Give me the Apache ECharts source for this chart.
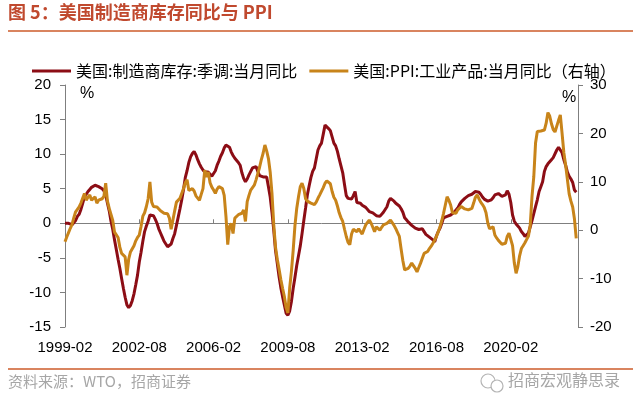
<!DOCTYPE html>
<html>
<head>
<meta charset="utf-8">
<script src="https://cdn.jsdelivr.net/npm/echarts@6/dist/echarts.min.js"></script>
<style>html,body{margin:0;padding:0;background:#fff;}#c{width:640px;height:414px;}</style>
</head>
<body>
<div id="c"></div>
<script>
// 美国:制造商库存:季调:当月同比 (left axis, %), monthly from 1999-02
const inventoryYoY = [
  0.0, 0.1, 0.0, -0.1, -0.2, -0.3, 0.4, 1.0, 1.3, 2.0, 2.9, 3.8,
  4.2, 4.6, 4.9, 5.2, 5.4, 5.5, 5.5, 5.3, 5.1, 5.0, 4.7, 4.1,
  2.9, 1.8, 0.3, -0.9, -2.4, -3.8, -5.2, -6.5, -8.0, -9.4, -10.7, -11.8,
  -12.2, -11.9, -11.2, -10.2, -8.9, -7.5, -5.6, -4.2, -2.6, -1.2, -0.4, 0.3,
  1.2, 1.3, 1.1, 0.6, 0.0, -0.8, -1.4, -2.0, -2.6, -3.0, -3.4, -3.5,
  -3.0, -2.2, -1.5, -0.3, 0.9, 2.1, 3.4, 4.9, 6.6, 7.6, 8.8, 9.6,
  10.1, 10.4, 9.9, 9.2, 8.6, 8.1, 7.7, 7.4, 7.2, 7.4, 7.3, 6.8,
  6.9, 7.6, 8.4, 9.0, 9.7, 10.2, 10.9, 11.3, 11.2, 11.0, 10.3, 9.8,
  9.4, 9.2, 8.8, 8.4, 7.3, 6.5, 6.0, 6.4, 7.0, 7.5, 8.0, 8.1,
  8.2, 7.5, 6.9, 6.8, 6.7, 6.8, 6.7, 5.3, 3.8, 1.6, -1.0, -3.9,
  -5.8, -7.7, -9.3, -10.6, -11.8, -13.0, -13.3, -12.7, -11.3, -9.4, -7.8, -6.1,
  -4.7, -3.3, -1.5, 0.4, 2.2, 4.1, 5.4, 6.6, 7.5, 8.0, 9.3, 10.6,
  11.2, 11.6, 12.9, 14.2, 14.0, 13.7, 13.4, 12.5, 11.6, 11.2, 10.4, 9.3,
  8.3, 7.3, 5.6, 4.0, 3.6, 3.4, 3.5, 4.0, 4.6, 3.0, 3.0, 2.9,
  2.6, 2.4, 2.3, 2.1, 1.7, 1.6, 1.5, 1.3, 1.1, 1.0, 1.0, 1.2,
  1.6, 2.0, 2.4, 3.2, 3.6, 3.4, 3.2, 2.9, 2.7, 2.5, 2.1, 1.6,
  0.8, 0.5, 0.2, 0.0, -0.3, -0.5, -0.7, -0.8, -0.9, -0.8, -0.8, -1.2,
  -1.6, -1.8, -2.0, -2.1, -2.4, -2.7, -1.8, -1.2, -0.7, 0.0, 0.8, 0.9,
  1.0, 1.1, 1.2, 1.4, 1.6, 1.8, 2.2, 2.7, 3.1, 3.3, 3.6, 3.8,
  4.0, 4.1, 4.2, 4.3, 4.6, 4.8, 4.5, 4.2, 3.8, 3.5, 3.4, 3.2,
  3.1, 3.4, 3.7, 4.1, 4.2, 4.3, 4.1, 3.9, 4.0, 4.1, 4.7, 4.2,
  3.0, 1.2, 0.3, -0.1, -0.4, -0.7, -1.2, -1.5, -1.9, -1.8, -1.4, -0.5,
  0.4, 1.4, 2.4, 3.4, 4.6, 5.3, 6.0, 7.5, 8.2, 8.6, 8.9, 9.2,
  9.5, 9.7, 10.6, 11.0, 11.1, 10.2, 9.2, 8.4, 7.4, 6.8, 6.4, 5.9,
  4.8, 4.5
];
// 美国:PPI:工业产品:当月同比 (right axis, %), monthly from 1999-02
const ppiYoY = [
  -2.4, -1.4, -0.5, 0.4, 1.2, 2.6, 3.8, 4.3, 4.8, 5.6, 6.6, 7.6,
  6.2, 6.8, 7.3, 6.2, 6.0, 6.9, 5.6, 6.2, 6.6, 6.5, 7.0, 9.7,
  6.0, 4.5, 4.3, 2.0, -0.4, -0.8, -1.5, -3.5, -4.8, -5.0, -5.5, -9.3,
  -6.0, -4.5, -4.3, -3.2, -2.2, -1.5, -1.0, 0.8, 2.9, 3.6, 4.9, 6.5,
  10.0, 5.8, 4.9, 5.0, 4.8, 4.4, 4.0, 3.6, 3.5, 3.8, 3.4, 2.5,
  0.2, 0.3, 4.0, 5.8, 6.2, 6.6, 6.9, 8.6, 9.8, 10.4, 8.2, 8.0,
  8.6, 8.1, 7.1, 6.7, 6.2, 7.4, 8.6, 12.4, 11.0, 12.0, 9.8, 8.9,
  8.3, 7.6, 8.5, 9.0, 8.8, 8.6, 7.2, 2.8, -3.0, 0.8, 1.4, -0.7,
  2.5, 2.9, 3.2, 3.4, 3.5, 4.2, 1.8, 5.9, 7.2, 8.3, 8.8, 9.3,
  10.4, 10.6, 13.0, 14.6, 15.9, 17.6, 16.4, 14.8, 12.0, 7.6, 1.2, -3.5,
  -6.0, -8.0, -10.2, -12.0, -13.7, -16.0, -17.1, -12.0, -8.5, -4.1, 1.0, 4.5,
  6.9, 9.0, 9.7, 8.6, 6.5, 6.0, 5.8, 5.6, 5.4, 5.3, 5.8, 6.6,
  7.3, 7.6, 8.8, 9.7, 10.2, 10.4, 9.6, 8.0, 6.8, 6.2, 5.0, 3.6,
  2.6, 1.8, 0.2, -1.3, -2.5, -3.0, -0.8, 0.2, 0.5, -0.3, 0.3, 0.6,
  -0.8, 0.2, 1.1, 1.6, 2.1, 1.5, 0.6, -0.3, 0.7, 0.3, 0.0, 0.6,
  1.1, 1.3, 1.4, 1.8, 2.1, 1.8, 1.0, 0.3, -0.5, -1.3, -3.9, -6.3,
  -8.2, -8.0, -7.9, -7.4, -6.8, -7.1, -7.9, -8.6, -7.7, -6.8, -5.8, -4.8,
  -5.1, -4.4, -3.8, -3.3, -2.7, -2.0, -1.3, -0.3, 0.7, 2.0, 3.5, 5.2,
  6.9, 6.2, 5.2, 3.6, 3.2, 3.5, 4.2, 4.5, 4.9, 5.2, 4.4, 4.2,
  4.2, 4.4, 4.5, 5.6, 6.8, 7.3, 6.5, 5.8, 5.3, 4.7, 3.6, 1.5,
  0.3, 0.0, 0.7, -1.0, -1.6, -2.1, -2.4, -2.9, -2.9, -2.7, -1.3, -0.6,
  -0.5, -3.2, -6.8, -8.9, -7.5, -5.3, -3.8, -3.2, -2.6, -1.9, -1.2, 1.0,
  7.0, 11.0, 18.0, 20.4, 20.7, 20.5, 20.6, 20.7, 22.1, 24.3, 23.6, 22.0,
  20.8, 20.3, 21.5, 22.7, 23.8, 20.0, 16.0, 13.5, 10.5, 7.5, 6.0, 4.8,
  2.3, -1.7
];
const seriesNames = ['美国:制造商库存:季调:当月同比', '美国:PPI:工业产品:当月同比（右轴）'];
const leftTicks = { min: -15, max: 20, step: 5 };
const rightTicks = { min: -20, max: 30, step: 10 };
const startYear = 1999, startMonth = 2, monthCount = 291;

const months = [];
for (let i = 0; i < monthCount; i++) {
  const t = startMonth - 1 + i;
  const y = startYear + Math.floor(t / 12);
  const m = (t % 12) + 1;
  months.push(y + '-' + (m < 10 ? '0' + m : '' + m));
}

const chart = echarts.init(document.getElementById('c'), null, { renderer: 'canvas' });
const axisColor = '#7f7f7f';
const numFont = 'Liberation Sans, Arial, sans-serif';
const cjkFont = '"Noto Sans CJK SC", sans-serif';

chart.setOption({
  animation: false,
  backgroundColor: '#ffffff',
  grid: { left: 65, right: 62, top: 85, bottom: 87, containLabel: false },
  legend: {
    left: 27, top: 58,
    itemWidth: 39, itemHeight: 3, itemGap: 12,
    icon: 'rect',
    textStyle: { fontFamily: cjkFont, fontSize: 16, color: '#000' },
    data: seriesNames
  },
  xAxis: [
    {
      type: 'category', data: months, boundaryGap: false, position: 'bottom',
      axisLine: { show: false, onZero: false },
      axisTick: { show: false },
      axisLabel: { interval: 41, fontSize: 15, color: '#000', fontFamily: numFont, margin: 13 },
      splitLine: { show: false }
    },
    {
      type: 'category', data: months, boundaryGap: false, position: 'bottom',
      axisLine: { show: true, onZero: true, lineStyle: { color: axisColor, width: 1 } },
      axisTick: { show: true, inside: true, interval: 41, length: 4, lineStyle: { color: axisColor } },
      axisLabel: { show: false },
      splitLine: { show: false }
    }
  ],
  yAxis: [
    {
      type: 'value', min: leftTicks.min, max: leftTicks.max, interval: leftTicks.step,
      axisLine: { show: true, lineStyle: { color: axisColor } },
      axisTick: { show: true, length: 5, lineStyle: { color: axisColor } },
      axisLabel: { fontSize: 15, color: '#000', fontFamily: numFont, margin: 14 },
      splitLine: { show: false }
    },
    {
      type: 'value', position: 'right', min: rightTicks.min, max: rightTicks.max, interval: rightTicks.step,
      axisLine: { show: true, lineStyle: { color: axisColor } },
      axisTick: { show: true, length: 5, lineStyle: { color: axisColor } },
      axisLabel: { fontSize: 15, color: '#000', fontFamily: numFont, margin: 12 },
      splitLine: { show: false }
    }
  ],
  series: [
    {
      name: seriesNames[0], type: 'line', xAxisIndex: 0, yAxisIndex: 0,
      data: inventoryYoY, showSymbol: false, symbol: 'none',
      lineStyle: { color: '#8C0D15', width: 3 }, itemStyle: { color: '#8C0D15' }
    },
    {
      name: seriesNames[1], type: 'line', xAxisIndex: 0, yAxisIndex: 1,
      data: ppiYoY, showSymbol: false, symbol: 'none',
      lineStyle: { color: '#C8841A', width: 3 }, itemStyle: { color: '#C8841A' }
    }
  ],
  graphic: [
    { type: 'text', left: 8, top: 3, style: { text: '图 5：美国制造商库存同比与 PPI', fill: '#C0492E', font: 'bold 18px "Noto Sans CJK SC", sans-serif' } },
    { type: 'rect', shape: { x: 8, y: 30, width: 625, height: 2 }, style: { fill: '#D9845F' } },
    { type: 'text', left: 80, top: 86, style: { text: '%', fill: '#000', font: '16px Liberation Sans, Arial, sans-serif' } },
    { type: 'text', left: 562, top: 90, style: { text: '%', fill: '#000', font: '16px Liberation Sans, Arial, sans-serif' } },
    { type: 'rect', shape: { x: 8, y: 368, width: 625, height: 2 }, style: { fill: '#D9845F' } },
    { type: 'text', left: 8, top: 374, style: { text: '资料来源：WTO，招商证券', fill: '#A6A6A6', font: '15px "Noto Sans CJK SC", sans-serif' } },
    { type: 'circle', shape: { cx: 488, cy: 381, r: 7 }, style: { fill: 'none', stroke: '#B4B4B4', lineWidth: 1.2 } },
    { type: 'circle', shape: { cx: 497, cy: 386, r: 6 }, style: { fill: '#fff', stroke: '#B4B4B4', lineWidth: 1.2 } },
    { type: 'text', left: 508, top: 372, style: { text: '招商宏观静思录', fill: '#A6A6A6', font: '16px "Noto Sans CJK SC", sans-serif' } }
  ]
});
</script>
</body>
</html>
